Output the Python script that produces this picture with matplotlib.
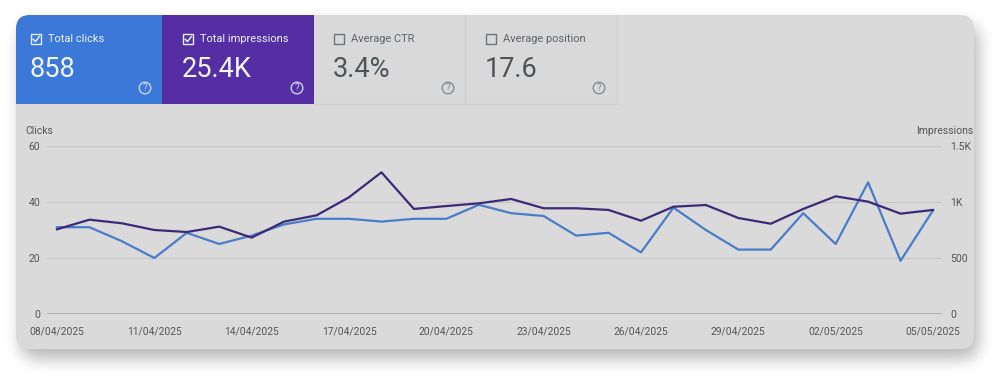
import numpy as np
import matplotlib.pyplot as plt
from matplotlib.patches import FancyBboxPatch, Rectangle, Circle

plt.rcParams['font.family'] = ['Roboto', 'DejaVu Sans']

# data
dates = ['08/04/2025', '09/04/2025', '10/04/2025', '11/04/2025', '12/04/2025',
         '13/04/2025', '14/04/2025', '15/04/2025', '16/04/2025', '17/04/2025',
         '18/04/2025', '19/04/2025', '20/04/2025', '21/04/2025', '22/04/2025',
         '23/04/2025', '24/04/2025', '25/04/2025', '26/04/2025', '27/04/2025',
         '28/04/2025', '29/04/2025', '30/04/2025', '01/05/2025', '02/05/2025',
         '03/05/2025', '04/05/2025', '05/05/2025']
clicks = [31, 31, 26, 20, 29, 25, 28, 32, 34, 34, 33, 34, 34, 39,
          36, 35, 28, 29, 22, 38, 30, 23, 23, 36, 25, 47, 19, 37]
impressions = [756, 842, 810, 750, 732, 780, 682, 825, 881, 1042, 1265, 938, 964, 988,
               1027, 944, 944, 929, 833, 958, 973, 857, 806, 938, 1051, 1003, 896, 929]

tile_names = ['Total clicks', 'Total impressions', 'Average CTR', 'Average position']
tile_values = ['858', '25.4K', '3.4%', '17.6']
tile_checked = [True, True, False, False]

clicks_ticks = [0, 20, 40, 60]
impr_ticks = [0, 500, 1000, 1500]
impr_labels = ['0', '500', '1K', '1.5K']

W, H = 1006, 382
fig = plt.figure(figsize=(W / 100, H / 100), dpi=100)
fig.patch.set_facecolor('white')

# background layer in pixel coords
bg = fig.add_axes([0, 0, 1, 1])
bg.set_xlim(0, W)
bg.set_ylim(H, 0)
bg.axis('off')

# soft drop shadow under the card
yy, xx = np.mgrid[0:H, 0:W]


def rrect_mask(x0, y0, x1, y1, r):
    dx = np.maximum(np.maximum(x0 + r - xx, xx - (x1 - r)), 0)
    dy = np.maximum(np.maximum(y0 + r - yy, yy - (y1 - r)), 0)
    return ((dx ** 2 + dy ** 2) <= r ** 2).astype(float)


def blur1d(a, k, axis):
    p = k // 2
    pads = [(p, p) if i == axis else (0, 0) for i in range(2)]
    a = np.pad(a, pads, mode='edge')
    c = np.cumsum(a, axis=axis)
    c = np.insert(c, 0, 0, axis=axis)
    n = a.shape[axis] - k + 1
    return (np.take(c, np.arange(k, k + n), axis) - np.take(c, np.arange(0, n), axis)) / k


sh = rrect_mask(20, 24, 978, 358, 14)
for _ in range(3):
    sh = blur1d(sh, 15, 0)
    sh = blur1d(sh, 15, 1)
shadow = np.zeros((H, W, 4))
shadow[..., 3] = 0.28 * sh
bg.imshow(shadow, extent=(0, W, H, 0), zorder=0, interpolation='bilinear')
bg.set_xlim(0, W)
bg.set_ylim(H, 0)

card = FancyBboxPatch((16, 15), 958, 334, boxstyle='round,pad=0,rounding_size=14',
                      fc='#dadada', ec='none', zorder=1)
bg.add_patch(card)

# metric tiles
tile_x = [16, 162, 314, 465]
tile_w = [146, 152, 151, 152]
tile_fc = ['#3b78d8', '#552ea3', '#d9d9d9', '#d9d9d9']
box_x = [31, 183, 334, 486]
help_x = [145, 297, 448, 599]
for i in range(4):
    r = Rectangle((tile_x[i], 15), tile_w[i], 89, fc=tile_fc[i], ec='none', zorder=2)
    bg.add_patch(r)
    r.set_clip_path(card)
    if tile_checked[i]:
        tc, vc, bc, hc = '#eef2fb', '#f4f6fc', '#e8ecf8', '#c9d3ee'
    else:
        tc, vc, bc, hc = '#5f6368', '#4f5257', '#6f7378', '#8a8d91'
    bg.add_patch(Rectangle((box_x[i], 34), 10, 10, fc='none', ec=bc, lw=1.0, zorder=3))
    if tile_checked[i]:
        bg.plot([box_x[i] + 2.2, box_x[i] + 4.5, box_x[i] + 8.2],
                [39.3, 41.6, 36.6], color=bc, lw=1.1, zorder=4)
    bg.text(box_x[i] + 17, 39.5, tile_names[i], fontsize=7.9, color=tc,
            va='center', ha='left', zorder=4)
    bg.text(box_x[i] - 1, 69.5, tile_values[i], fontsize=19.5, color=vc,
            va='center', ha='left', zorder=4)
    bg.add_patch(Circle((help_x[i], 88), 5.8, fc='none', ec=hc, lw=1.0, zorder=3))
    bg.text(help_x[i], 88.4, '?', fontsize=7, color=hc, ha='center', va='center',
            zorder=4)

# faint borders of the grey tiles
bg.plot([465, 465], [15, 104], color='#d0d0d0', lw=1, zorder=3)
bg.plot([617, 617], [15, 104], color='#d0d0d0', lw=1, zorder=3)
bg.plot([314, 617], [104, 104], color='#d2d2d2', lw=1, zorder=3)

# axis titles
bg.text(25, 131, 'Clicks', fontsize=7.5, color='#555555', ha='left', va='center', zorder=4)
bg.text(973, 131, 'Impressions', fontsize=7.5, color='#555555', ha='right', va='center', zorder=4)

# chart
step = 32.44
ax = fig.add_axes([47 / W, (H - 314) / H, 895 / W, 168 / H])
ax.set_facecolor('none')
x = np.arange(len(dates))
ax.set_xlim(-10 / step, len(dates) - 1 + 9 / step)
ax.set_ylim(0, 60)
ax.set_yticks(clicks_ticks)
ax.grid(axis='y', color='#c7c7c7', lw=0.8)
ax.axhline(0, color='#a9a9a9', lw=1.3, zorder=2)
for s in ax.spines.values():
    s.set_visible(False)
ax.tick_params(axis='y', length=0, pad=5, labelsize=7.5, labelcolor='#555555')
ax.set_xticks(x[::3])
ax.set_xticklabels(dates[::3])
ax.tick_params(axis='x', length=0, pad=9, labelsize=7.4, labelcolor='#555555')
ax.plot(x, clicks, color='#4a7cc9', lw=1.6, zorder=3)

ax2 = ax.twinx()
ax2.patch.set_visible(False)
ax2.set_ylim(0, 1500)
ax2.set_yticks(impr_ticks)
ax2.set_yticklabels(impr_labels)
for s in ax2.spines.values():
    s.set_visible(False)
ax2.tick_params(axis='y', length=0, pad=6, labelsize=7.5, labelcolor='#555555')
ax2.plot(x, impressions, color='#3b2a78', lw=1.6, zorder=3)

fig.savefig('out.png', dpi=100, facecolor='white')
